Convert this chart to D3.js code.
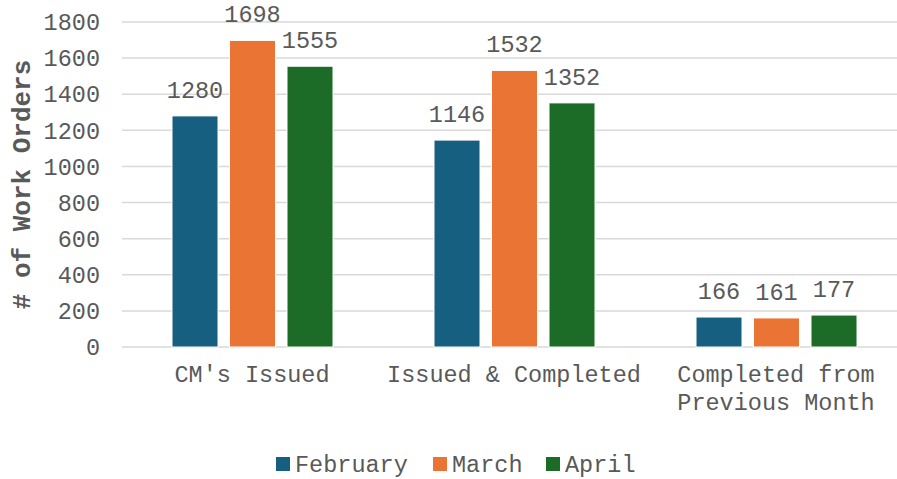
<!DOCTYPE html>
<html lang="en">
<head>
  <meta charset="UTF-8">
  <title>Work Orders</title>
  <script src="https://cdn.jsdelivr.net/npm/d3@7"></script>
  <style>
    body { margin: 0; background: #fff; }
    text { font-family: "Liberation Mono", "Courier New", monospace; fill: #595959; }
  </style>
</head>
<body>
  <svg id="chart" width="897" height="479"></svg>
  <script>
    const categories = [["CM's Issued"], ["Issued & Completed"], ["Completed from", "Previous Month"]];
    const months = ["February", "March", "April"];
    const february = [1280, 1146, 166];
    const march = [1698, 1532, 161];
    const april = [1555, 1352, 177];
    const yTicks = [0, 200, 400, 600, 800, 1000, 1200, 1400, 1600, 1800];
    const colors = ["#175f80", "#ea7433", "#1c6b26"];

    const series = [february, march, april];
    const svg = d3.select("#chart");
    const fs = 23.5;

    let y = d3.scaleLinear().domain([0, 1800]).range([347, 22]);
    let x = d3.scaleBand().domain(d3.range(categories.length)).range([121, 907]).paddingInner(0).paddingOuter(0);
    let xs = d3.scaleBand().domain(d3.range(months.length)).range([51, 212]).paddingInner(0.2);

    // gridlines
    svg.append("g")
      .selectAll("line")
      .data(yTicks)
      .join("line")
      .attr("x1", 122)
      .attr("x2", 897)
      .attr("y1", d => y(d))
      .attr("y2", d => y(d))
      .attr("stroke", "#d9d9d9")
      .attr("stroke-width", 1.5);

    // y tick labels
    svg.append("g")
      .selectAll("text")
      .data(yTicks)
      .join("text")
      .attr("x", 100)
      .attr("y", d => y(d))
      .attr("dy", "0.35em")
      .attr("text-anchor", "end")
      .style("font-size", fs + "px")
      .text(d => d);

    // y title
    svg.append("text")
      .attr("transform", "translate(30," + ((y(0) + y(1800)) / 2) + ") rotate(-90)")
      .attr("text-anchor", "middle")
      .style("font-size", "26px")
      .style("font-weight", "bold")
      .text("# of Work Orders");

    // bars
    const groups = svg.append("g")
      .selectAll("g")
      .data(series)
      .join("g")
      .attr("fill", (d, i) => colors[i]);

    groups.selectAll("rect")
      .data((d, si) => d.map((v, ci) => ({ v, ci, si })))
      .join("rect")
      .attr("x", d => x(d.ci) + xs(d.si))
      .attr("y", d => y(d.v))
      .attr("width", xs.bandwidth())
      .attr("height", d => y(0) - y(d.v))
      .attr("stroke", "#fff")
      .attr("stroke-width", 1);

    // value labels
    svg.append("g")
      .selectAll("text")
      .data(series.flatMap((s, si) => s.map((v, ci) => ({ v, ci, si }))))
      .join("text")
      .attr("x", d => x(d.ci) + xs(d.si) + xs.bandwidth() / 2)
      .attr("y", d => y(d.v) - 18)
      .attr("text-anchor", "middle")
      .style("font-size", fs + "px")
      .text(d => d.v);

    // category labels
    const cat = svg.append("g")
      .selectAll("text")
      .data(categories)
      .join("text")
      .attr("x", (d, i) => x(i) + x.bandwidth() / 2)
      .attr("y", 374)
      .attr("text-anchor", "middle")
      .style("font-size", fs + "px");
    cat.selectAll("tspan")
      .data(d => d)
      .join("tspan")
      .attr("x", function () { return this.parentNode.getAttribute("x"); })
      .attr("dy", (d, i) => i === 0 ? "0.35em" : "28")
      .text(d => d);

    // legend
    const legendX = [276, 433, 546];
    const legend = svg.append("g")
      .selectAll("g")
      .data(months)
      .join("g")
      .attr("transform", (d, i) => "translate(" + legendX[i] + ",464)");
    legend.append("rect")
      .attr("x", 0)
      .attr("y", -7)
      .attr("width", 14)
      .attr("height", 14)
      .attr("fill", (d, i) => colors[i]);
    legend.append("text")
      .attr("x", 19)
      .attr("dy", "0.35em")
      .style("font-size", fs + "px")
      .text(d => d);
  </script>
</body>
</html>
